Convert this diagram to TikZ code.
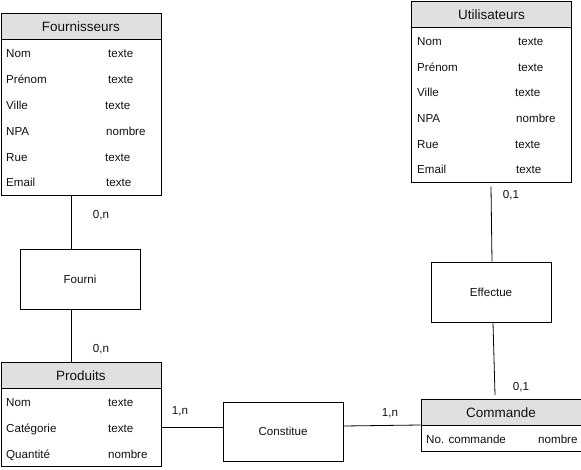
\documentclass[tikz,border=0pt]{standalone}
\usepackage{fontspec}
\setmainfont{Liberation Sans}
\definecolor{hdrgray}{HTML}{E0E0E0}
\definecolor{txt}{HTML}{111111}
\begin{document}
\begin{tikzpicture}[x=1pt,y=-1pt,
  hdr/.style={draw, fill=hdrgray, minimum width=160pt, minimum height=26pt, anchor=north west, inner sep=0pt, line width=0.8pt, text=txt, font=\fontsize{13.5}{15}\selectfont},
  bodybox/.style={draw, minimum width=160pt, anchor=north west, inner sep=0pt, line width=0.8pt},
  attr/.style={anchor=base west, inner sep=0pt, text=txt, font=\fontsize{11.6}{13}\selectfont},
  relbox/.style={draw, minimum width=120pt, minimum height=60pt, inner sep=0pt, line width=0.8pt, text=txt, font=\fontsize{11.6}{13}\selectfont},
  card/.style={inner sep=0pt, text=txt, font=\fontsize{11.6}{13}\selectfont},
  link/.style={draw, line width=0.8pt}
]
\useasboundingbox (0,0) rectangle (581,470);

% ---------- Fournisseurs ----------
\node[hdr] (fourh) at (0.5,13) {Fournisseurs};
\node[bodybox, minimum height=156pt] (fourb) at (0.5,39) {};
\node[attr] (f1n) at (6,58) {Nom};       \node[attr] (f1v) at (108,58) {texte};
\node[attr] (f2n) at (6,83.8) {Prénom};  \node[attr] (f2v) at (108,83.8) {texte};
\node[attr] (f3n) at (6,109.6) {Ville};  \node[attr] (f3v) at (105,109.6) {texte};
\node[attr] (f4n) at (6,135.4) {NPA};    \node[attr] (f4v) at (106,135.4) {nombre};
\node[attr] (f5n) at (6,161.2) {Rue};    \node[attr] (f5v) at (105,161.2) {texte};
\node[attr] (f6n) at (6,187) {Email};    \node[attr] (f6v) at (106,187) {texte};

% ---------- Utilisateurs ----------
\node[hdr] (utih) at (411,1) {Utilisateurs};
\node[bodybox, minimum height=155pt] (utib) at (411,27) {};
\node[attr] (u1n) at (417,45.5) {Nom};     \node[attr] (u1v) at (518,45.5) {texte};
\node[attr] (u2n) at (417,71.3) {Prénom};  \node[attr] (u2v) at (518,71.3) {texte};
\node[attr] (u3n) at (417,97) {Ville};     \node[attr] (u3v) at (515,97) {texte};
\node[attr] (u4n) at (417,122.5) {NPA};    \node[attr] (u4v) at (516,122.5) {nombre};
\node[attr] (u5n) at (417,148.3) {Rue};    \node[attr] (u5v) at (515,148.3) {texte};
\node[attr] (u6n) at (417,174) {Email};    \node[attr] (u6v) at (516,174) {texte};

% ---------- Produits ----------
\node[hdr] (proh) at (0.5,362) {Produits};
\node[bodybox, minimum height=78pt] (prob) at (0.5,388) {};
\node[attr] (p1n) at (6,406.5) {Nom};        \node[attr] (p1v) at (108,406.5) {texte};
\node[attr] (p2n) at (6,432.5) {Catégorie};  \node[attr] (p2v) at (108,432.5) {texte};
\node[attr] (p3n) at (6,458.5) {Quantité};   \node[attr] (p3v) at (108,458.5) {nombre};

% ---------- Commande ----------
\node[hdr] (comh) at (420.5,399) {Commande};
\node[bodybox, minimum height=26pt] (comb) at (420.5,425) {};
\node[attr] (c1n) at (426,443) {No. commande};
\begin{scope}
  \clip (420.5,425) rectangle (579.3,451);
  \node[attr] (c1v) at (538,443) {nombre};
\end{scope}

% ---------- Relations ----------
\node[relbox] (fourni) at (80,279) {Fourni};
\node[relbox] (effectue) at (491,292) {Effectue};
\node[relbox, minimum height=59pt] (constitue) at (283,431.5) {Constitue};

% ---------- Connectors ----------
\coordinate (xa) at (71.5,0);
\draw[link] (fourb.south -| xa) -- (fourni.north -| xa);
\draw[link] (fourni.south -| xa) -- (proh.north -| xa);

\coordinate (e1) at (491,186.5);
\coordinate (e2) at (492,262);
\coordinate (e3) at (493,322);
\coordinate (e4) at (495,395);
\draw[link] (e1) -- (effectue.north -| e2);
\draw[link] (effectue.south -| e3) -- (e4);

\coordinate (ya) at (0,427);
\coordinate (yb) at (0,426);
\draw[link] (prob.east |- ya) -- (constitue.west |- ya);
\draw[link] (constitue.east |- yb) -- (comh.west |- comb.north);

% ---------- Cardinalities ----------
\node[card] (k1) at (101,215.5) {0,n};
\node[card] (k2) at (101,349.5) {0,n};
\node[card] (k3) at (511,195.5) {0,1};
\node[card] (k4) at (521,387.5) {0,1};
\node[card] (k5) at (180,411.5) {1,n};
\node[card] (k6) at (390,413.5) {1,n};
\end{tikzpicture}
\end{document}
